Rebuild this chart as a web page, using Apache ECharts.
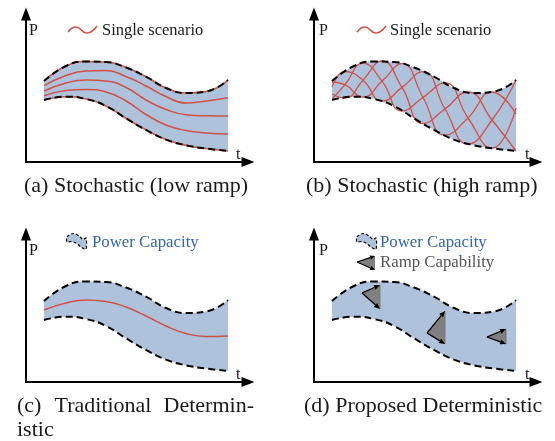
<!DOCTYPE html>
<html><head><meta charset="utf-8">
<script src="https://cdn.jsdelivr.net/npm/echarts@6/dist/echarts.min.js"></script>
<style>html,body{margin:0;padding:0;background:#fff}#c{width:555px;height:441px}</style>
</head><body><div id="c"></div>
<script>
// ---- data (t, P in arbitrary schematic units) ----
const tGrid = [18, 40, 60, 80, 100, 120, 140, 160, 180, 202];
const upperCap = [81, 96, 100.5, 100, 94.5, 85.3, 74, 69, 70.5, 82];
const lowerCap = [62, 65.3, 63, 56, 43.7, 32.1, 22.4, 16.7, 13.5, 11];
const lowScen1 = [76.3, 86.5, 91, 91.5, 85.5, 76, 65.5, 59, 61, 64.3];
const lowScen2 = [71, 79, 82, 81, 74.5, 62, 52.5, 47.3, 46.2, 46];
const lowScen3 = [66.3, 71.5, 72.5, 70, 61, 47.5, 37, 31.5, 29, 28];
const tHigh = [18, 31, 49, 68, 88, 109, 131, 154, 178, 202];
const highScen1 = [80, 77.4, 64.8, 80.9, 98.3, 64.5, 26.8, 44, 70, 48];
const highScen2 = [74.9, 90.5, 81.8, 60.8, 74.6, 90.4, 53, 18, 42, 82];
const highScen3 = [63, 77.4, 98.8, 80.9, 51, 64.5, 79.1, 44, 13.8, 54];
const highScen4 = [68, 64, 81.8, 101, 74.6, 38.5, 53, 70, 42, 11];
const forecast = [72, 79, 82, 80.5, 75, 66, 56, 48.5, 45.5, 46];
// ramp triangles: [tLeft, PLeft, tRight, PTop, PBottom]
const rampTriangles = [[48, 89, 66, 97, 73], [113, 49, 131, 71, 38], [173, 45, 192, 53, 38]];
const captions = ['(a) Stochastic (low ramp)', '(b) Stochastic (high ramp)', '(d) Proposed Deterministic'];

const BLUE = '#afc2db', RED = '#cf5249', FONT = 'Liberation Serif';
const zip = (xs, ys) => xs.map((x, k) => [x, ys[k]]);

const grids = [
  {left: 26, top: 14, width: 222, height: 148},
  {left: 314, top: 14, width: 222, height: 148},
  {left: 26, top: 234, width: 222, height: 148},
  {left: 314, top: 234, width: 222, height: 148}
];
const axisLine = {show: true, symbol: ['none', 'triangle'], symbolSize: [10, 13], lineStyle: {color: '#000', width: 2}};
const xAxes = grids.map((g, i) => ({type: 'value', gridIndex: i, min: 0, max: 222, z: 10, axisLine: axisLine,
  axisTick: {show: false}, axisLabel: {show: false}, splitLine: {show: false}}));
const yAxes = grids.map((g, i) => ({type: 'value', gridIndex: i, min: 0, max: 148, z: 10, axisLine: axisLine,
  axisTick: {show: false}, axisLabel: {show: false}, splitLine: {show: false}}));

function line(i, xs, ys, extra) {
  return Object.assign({type: 'line', xAxisIndex: i, yAxisIndex: i, data: zip(xs, ys), smooth: 0.5,
    symbol: 'none', showSymbol: false, silent: true, animation: false}, extra);
}
const series = [];
const DASH = {color: '#000', width: 2, type: [7, 4]};
function band(i, redEdges) {
  series.push(line(i, tGrid, upperCap, {z: 1, lineStyle: {width: 0}, areaStyle: {color: BLUE, opacity: 1}}));
  series.push(line(i, tGrid, lowerCap, {z: 1, lineStyle: {width: 0}, areaStyle: {color: '#fff', opacity: 1}}));
  if (redEdges) {
    series.push(line(i, tGrid, upperCap, {z: 3, lineStyle: {color: RED, width: 1.6}}));
    series.push(line(i, tGrid, lowerCap, {z: 3, lineStyle: {color: RED, width: 1.6}}));
  }
  series.push(line(i, tGrid, upperCap, {z: 4, lineStyle: DASH}));
  series.push(line(i, tGrid, lowerCap, {z: 4, lineStyle: DASH}));
}
band(0, true);
[lowScen1, lowScen2, lowScen3].forEach(s => series.push(line(0, tGrid, s, {z: 3, lineStyle: {color: RED, width: 1.5}})));
band(1, false);
[highScen1, highScen2, highScen3, highScen4].forEach(s => series.push(line(1, tHigh, s, {z: 3, lineStyle: {color: RED, width: 1.3}})));
band(2, false);
series.push(line(2, tGrid, forecast, {z: 3, lineStyle: {color: RED, width: 1.5}}));
band(3, false);

function arrowShapes(a, b, len, hw) {
  const dx = b[0] - a[0], dy = b[1] - a[1], d = Math.hypot(dx, dy), ux = dx / d, uy = dy / d;
  const base = [b[0] - ux * len, b[1] - uy * len];
  return [
    {type: 'line', shape: {x1: a[0], y1: a[1], x2: base[0], y2: base[1]}, style: {stroke: '#000', lineWidth: 1.2}},
    {type: 'polygon', shape: {points: [b, [base[0] - uy * hw, base[1] + ux * hw], [base[0] + uy * hw, base[1] - ux * hw]]}, style: {fill: '#000'}}
  ];
}
series.push({
  type: 'custom', xAxisIndex: 3, yAxisIndex: 3, data: rampTriangles, z: 5, silent: true, animation: false, clip: false,
  renderItem: function (params, api) {
    const l = api.coord([api.value(0), api.value(1)]);
    const tp = api.coord([api.value(2), api.value(3)]);
    const bt = api.coord([api.value(2), api.value(4)]);
    return {type: 'group', children: [
      {type: 'polygon', shape: {points: [l, tp, bt]}, style: {fill: '#808080', stroke: '#707070', lineWidth: 0.8}}
    ].concat(arrowShapes(l, tp, 6, 2.6), arrowShapes(l, bt, 6, 2.6))};
  }
});

function txt(x, y, text, size, color, align) {
  return {type: 'text', x: x, y: y, z: 20, silent: true, style: {text: text, fill: color || '#1a1a1a', font: size + 'px "' + FONT + '"', textAlign: align || 'left', textVerticalAlign: 'middle'}};
}
function shift(pts, x, y) { return pts.map(p => [p[0] + x, p[1] + y]); }
const wavePts = [[0, 6], [8, 1], [19, 7], [29, 0]];
const blobPts = [[0, 4], [6, 0.5], [12, 3], [16, 6.5], [19, 5], [19, 16], [14, 14], [9, 10], [4, 8.5], [0, 9]];
function rampIcon(x, y) {
  const l = [x, y + 7], tp = [x + 18, y + 1], bt = [x + 18, y + 15];
  return [{type: 'polygon', z: 20, shape: {points: [l, tp, bt]}, style: {fill: '#808080'}}]
    .concat(arrowShapes(l, tp, 5, 2.2).map(e => Object.assign(e, {z: 21})), arrowShapes(l, bt, 5, 2.2).map(e => Object.assign(e, {z: 21})));
}
const CAP = 22;
const graphic = [
  txt(29, 31, 'P', 16), txt(319, 31, 'P', 16), txt(29, 251, 'P', 16), txt(319, 251, 'P', 16),
  txt(236, 155, 't', 16), txt(525, 155, 't', 16), txt(236, 375, 't', 16), txt(525, 375, 't', 16),
  {type: 'polyline', z: 20, shape: {points: shift(wavePts, 68, 26), smooth: 0.5}, style: {stroke: RED, lineWidth: 1.5, fill: null}},
  {type: 'polyline', z: 20, shape: {points: shift(wavePts, 357, 26), smooth: 0.5}, style: {stroke: RED, lineWidth: 1.5, fill: null}},
  txt(102, 31, 'Single scenario', 16.5), txt(390, 31, 'Single scenario', 16.5),
  {type: 'polygon', z: 20, shape: {points: shift(blobPts, 67, 233), smooth: 0.3}, style: {fill: BLUE, stroke: '#000', lineWidth: 1.2, lineDash: [3, 2]}},
  {type: 'polygon', z: 20, shape: {points: shift(blobPts, 357, 233), smooth: 0.3}, style: {fill: BLUE, stroke: '#000', lineWidth: 1.2, lineDash: [3, 2]}},
  txt(92, 243, 'Power Capacity', 16.8, '#3366b0'), txt(380, 243, 'Power Capacity', 16.8, '#3366b0'),
  txt(380, 263, 'Ramp Capability', 16.8, '#555555'),
  txt(24, 186, captions[0], CAP), txt(306, 186, captions[1], CAP), txt(304, 406, captions[2], CAP),
  txt(17, 406, '(c)', CAP), txt(103, 406, 'Traditional', CAP, null, 'center'), txt(254, 406, 'Determin-', CAP, null, 'right'),
  txt(17, 430, 'istic', CAP)
].concat(rampIcon(357, 255));

const chart = echarts.init(document.getElementById('c'), null, {renderer: 'canvas'});
chart.setOption({animation: false, backgroundColor: '#fff', grid: grids, xAxis: xAxes, yAxis: yAxes, series: series, graphic: graphic});
</script></body></html>
